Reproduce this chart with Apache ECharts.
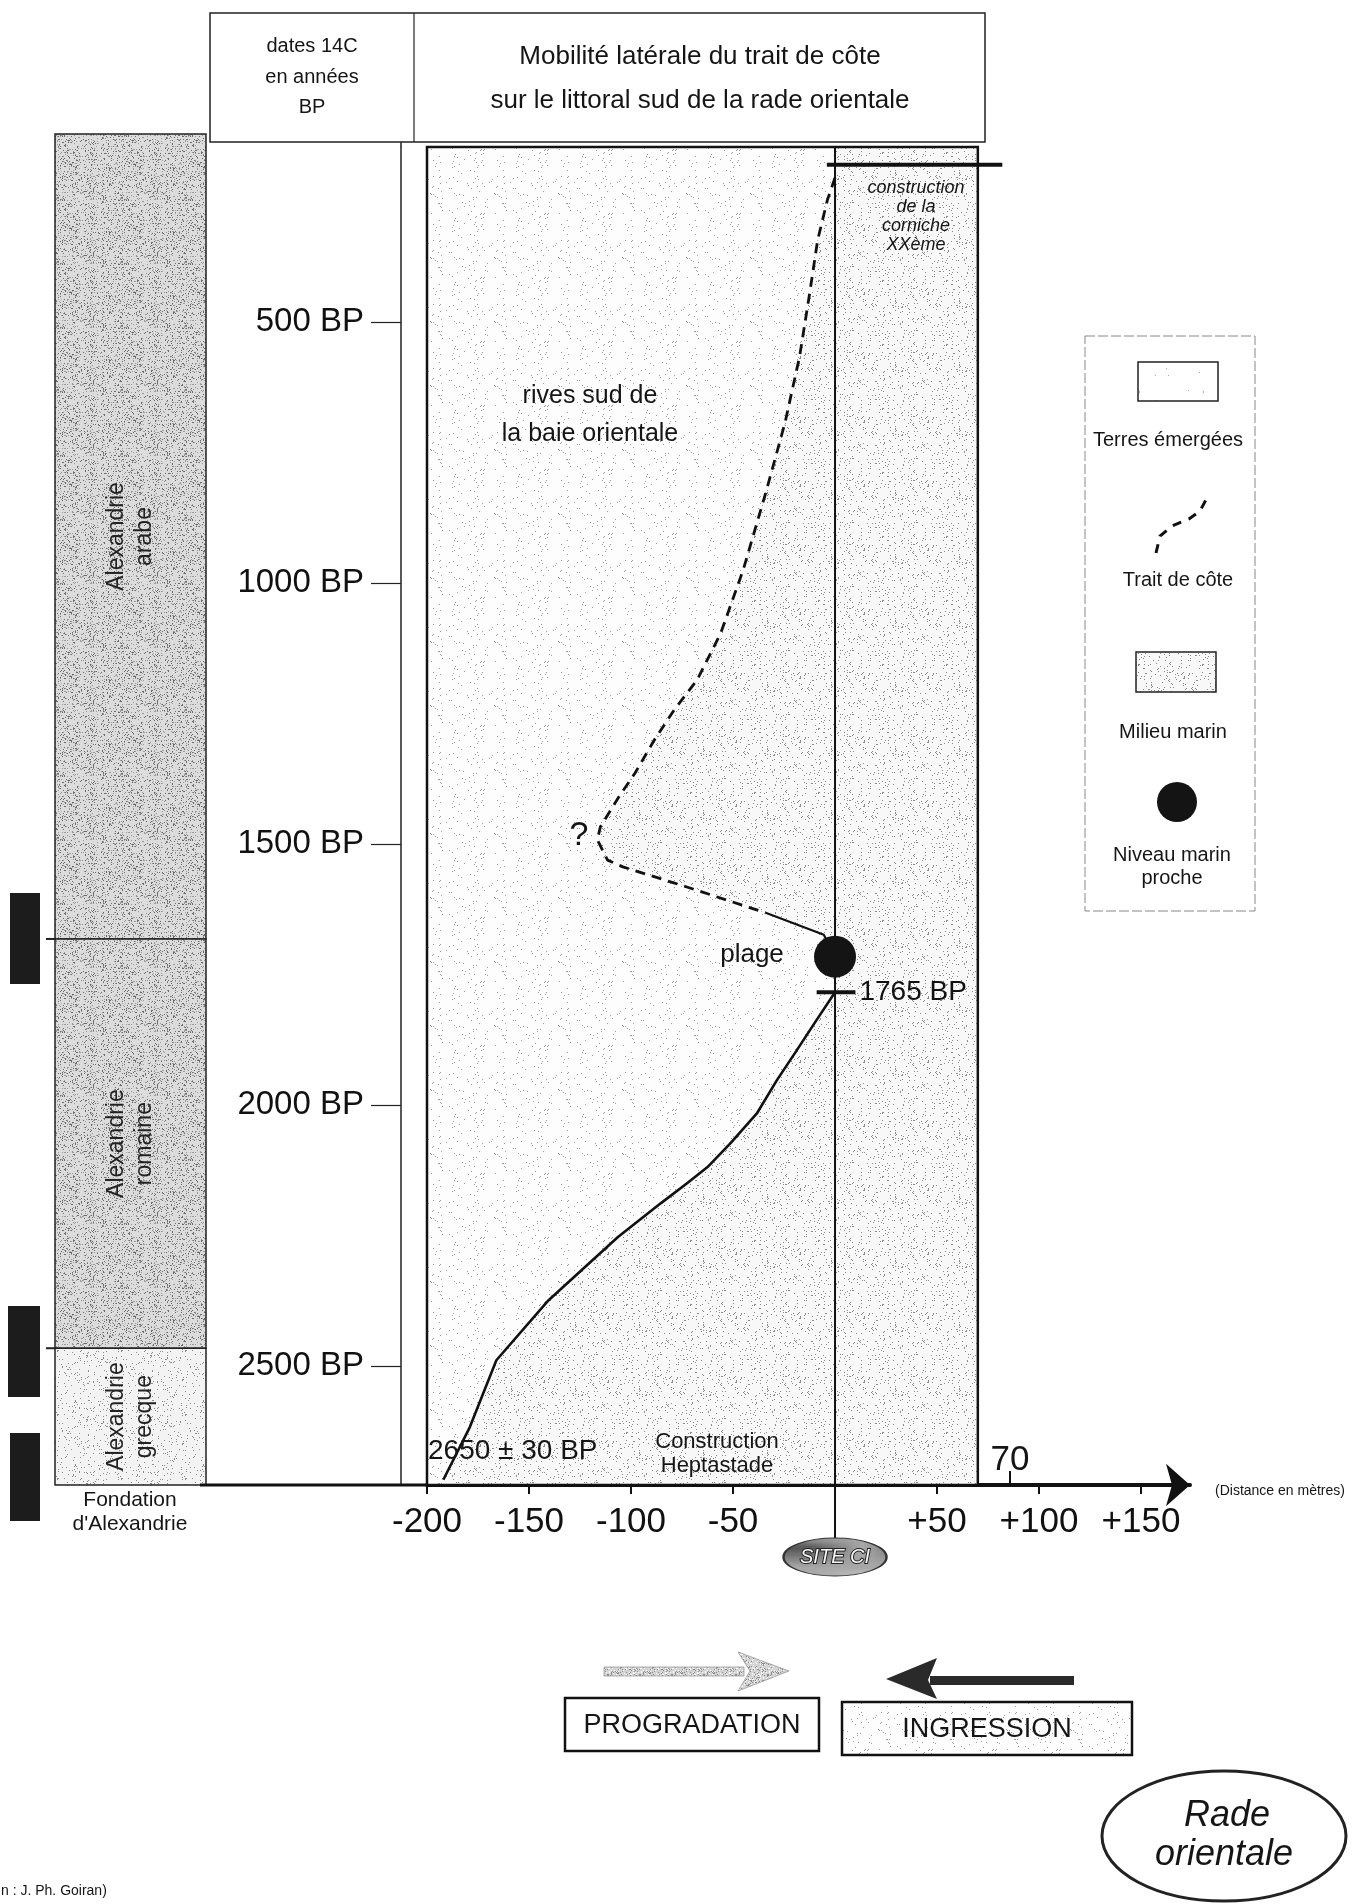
<!DOCTYPE html>
<html>
<head>
<meta charset="utf-8">
<script src="https://cdn.jsdelivr.net/npm/echarts@6/dist/echarts.min.js"></script>
<style>
html, body { margin: 0; padding: 0; background: #fff; }
#chart { width: 1370px; height: 1904px; }
</style>
</head>
<body>
<div id="chart"></div>
<script>
// axes : années BP (vertical) et distance en mètres au site CI (horizontal)
var yTickValues = [500, 1000, 1500, 2000, 2500];
var xTickValues = [-200, -150, -100, -50, 50, 100, 150];

// périodes de la ville (colonne de gauche)
var periodNames = ['Alexandrie\narabe', 'Alexandrie\nromaine', 'Alexandrie\ngrecque'];
var periodStart = [140, 1682, 2466];
var periodEnd = [1682, 2466, 2728];

// trait de côte supposé (tirets)
var dashedDist = [0, -3.7, -8.5, -12.7, -17.4, -24.5, -34, -45, -56, -67.6, -78.8, -88.6, -98, -106, -115, -116.5, -111.5, -104, -73, -34];
var dashedBP = [224, 266, 343, 452, 567, 693, 828, 975, 1096, 1186, 1243, 1301, 1364, 1410, 1467, 1492, 1531, 1544, 1582, 1632];
// raccord vers la plage
var linkDist = [-34, -5.5, 0];
var linkBP = [1632, 1674, 1716];
// trait de côte daté (trait plein)
var solidDist = [0, -9, -18.7, -28.4, -38.1, -51.2, -62.5, -72.2, -85.3, -106.4, -122.4, -140.4, -166, -179, -192];
var solidBP = [1784, 1837, 1895, 1952, 2015, 2073, 2119, 2149, 2188, 2253, 2310, 2374, 2489, 2617, 2718];

var beachPoint = [0, 1716];
var dateTick = { dist: [-9, 10], bp: 1784 };
var cornicheBar = { dist: [-4, 82], bp: 199 };
var frameDist = [-200, 70];
var frameBP = [165, 2728];
var siteBP = 2866;

function pairs(xs, ys) {
	return xs.map(function (x, i) { return [x, ys[i]]; });
}

// petite trame pointillée (texture du scan)
function stipple(bg, dots, size, seed) {
	var c = document.createElement('canvas');
	c.width = size; c.height = size;
	var ctx = c.getContext('2d');
	ctx.fillStyle = bg;
	ctx.fillRect(0, 0, size, size);
	var s = seed;
	function next() { s = (s * 16807) % 2147483647; return s; }
	dots.forEach(function (d) {
		ctx.fillStyle = d[0];
		for (var i = 0; i < d[1]; i++) {
			ctx.fillRect(next() % size, next() % size, 1, 1);
		}
	});
	return c;
}
function pat(c) { return { image: c, repeat: 'repeat' }; }

var texDark = stipple('#dcdcdc', [['#6a6a6a', 420], ['#9a9a9a', 380]], 64, 11);
var texLight = stipple('#f3f3f3', [['#8c8c8c', 240]], 64, 23);
var texSea = stipple('#fdfdfd', [['#9a9a9a', 100]], 64, 37);
var texSeaDense = stipple('#f8f8f8', [['#8a8a8a', 240]], 64, 53);
var texLand = stipple('#ffffff', [['#aaaaaa', 18]], 64, 71);
var texSite = stipple('#a8a8a8', [['#555555', 200], ['#dddddd', 140]], 32, 89);
var texArrow = stipple('#d4d4d4', [['#8a8a8a', 200], ['#ffffff', 150]], 32, 97);

var FONT = '"Liberation Sans", Arial, sans-serif';
function txt(x, y, text, size, opt) {
	opt = opt || {};
	return {
		type: 'text', x: x, y: y, z: 50,
		style: {
			text: text,
			font: (opt.italic ? 'italic ' : '') + size + 'px ' + FONT,
			fill: opt.color || '#151515',
			align: opt.align || 'center',
			verticalAlign: 'middle',
			lineHeight: opt.lineHeight || Math.round(size * 1.2)
		}
	};
}

var chart = echarts.init(document.getElementById('chart'));

var option = {
	animation: false,
	backgroundColor: '#ffffff',
	grid: [
		{ left: 427, top: 147, width: 763, height: 1338 },
		{ left: 55, top: 134, width: 151, height: 1351 }
	],
	xAxis: [
		{
			type: 'value', gridIndex: 0, min: -200, max: 174,
			axisLine: { show: true, onZero: false, lineStyle: { color: '#111', width: 4 }, symbol: ['none', 'arrow'], symbolSize: [32, 24] },
			axisTick: { show: true, customValues: xTickValues, length: 9, lineStyle: { color: '#111', width: 2 } },
			axisLabel: {
				customValues: xTickValues, fontSize: 35, color: '#111', margin: 20, fontFamily: FONT,
				formatter: function (v) { return v > 0 ? '+' + v : '' + v; }
			},
			splitLine: { show: false }
		},
		{ type: 'value', gridIndex: 1, min: 0, max: 1, show: false }
	],
	yAxis: [
		{
			type: 'value', gridIndex: 0, inverse: true, min: frameBP[0], max: frameBP[1],
			position: 'left', offset: 26,
			axisLine: { show: true, onZero: false, lineStyle: { color: '#222', width: 1.5 } },
			axisTick: { show: true, customValues: yTickValues, length: 30, lineStyle: { color: '#222', width: 1.2 } },
			axisLabel: {
				customValues: yTickValues, fontSize: 33, color: '#111', margin: 37, fontFamily: FONT,
				formatter: function (v) { return v + ' BP'; }
			},
			splitLine: { show: false }
		},
		{ type: 'value', gridIndex: 1, inverse: true, min: 140, max: 2728, show: false }
	],
	series: [
		{
			// cadre : milieu marin + rives
			type: 'custom', xAxisIndex: 0, yAxisIndex: 0, z: 1,
			data: [0],
			renderItem: function (params, api) {
				var tl = api.coord([frameDist[0], frameBP[0]]);
				var br = api.coord([frameDist[1], frameBP[1]]);
				var pts = [];
				pairs(dashedDist, dashedBP).forEach(function (p) { pts.push(api.coord(p)); });
				pairs(linkDist, linkBP).slice(1).forEach(function (p) { pts.push(api.coord(p)); });
				pairs(solidDist, solidBP).forEach(function (p) { pts.push(api.coord(p)); });
				pts.push(api.coord([-189.5, frameBP[1]]));
				pts.push(api.coord([frameDist[1], frameBP[1]]));
				pts.push(api.coord([frameDist[1], frameBP[0]]));
				pts.push(api.coord([0, frameBP[0]]));
				var rect = { x: tl[0], y: tl[1], width: br[0] - tl[0], height: br[1] - tl[1] };
				return {
					type: 'group',
					children: [
						{ type: 'rect', shape: rect, style: { fill: pat(texSea) } },
						{ type: 'polygon', shape: { points: pts }, style: { fill: pat(texSeaDense) } },
						{ type: 'rect', shape: rect, style: { fill: null, stroke: '#111', lineWidth: 2.5 } }
					]
				};
			}
		},
		{
			name: 'trait de côte (supposé)', type: 'line', xAxisIndex: 0, yAxisIndex: 0, z: 4,
			data: pairs(dashedDist, dashedBP), symbol: 'none',
			lineStyle: { color: '#111', width: 2.8, type: [10, 7] }
		},
		{
			type: 'line', xAxisIndex: 0, yAxisIndex: 0, z: 4,
			data: pairs(linkDist, linkBP), symbol: 'none',
			lineStyle: { color: '#111', width: 2.2 }
		},
		{
			name: 'trait de côte', type: 'line', xAxisIndex: 0, yAxisIndex: 0, z: 4,
			data: pairs(solidDist, solidBP), symbol: 'none',
			lineStyle: { color: '#111', width: 2.6 }
		},
		{
			// ligne du site CI
			type: 'line', xAxisIndex: 0, yAxisIndex: 0, z: 3, clip: false,
			data: [[0, frameBP[0]], [0, siteBP]], symbol: 'none',
			lineStyle: { color: '#111', width: 2 }
		},
		{
			type: 'scatter', xAxisIndex: 0, yAxisIndex: 0, z: 6, clip: false,
			data: [[0, siteBP]], symbol: 'circle', symbolSize: [103, 38],
			itemStyle: { color: pat(texSite), borderColor: '#333', borderWidth: 1.5, opacity: 1 },
			label: {
				show: true, position: 'inside', formatter: 'SITE CI', fontStyle: 'italic', fontSize: 20,
				fontFamily: FONT, color: '#f4f4f4', textBorderColor: '#222', textBorderWidth: 2
			}
		},
		{
			// niveau marin proche (plage)
			type: 'scatter', xAxisIndex: 0, yAxisIndex: 0, z: 6,
			data: [beachPoint], symbol: 'circle', symbolSize: 42,
			itemStyle: { color: '#141414', opacity: 1 }
		},
		{
			type: 'line', xAxisIndex: 0, yAxisIndex: 0, z: 5,
			data: [[dateTick.dist[0], dateTick.bp], [dateTick.dist[1], dateTick.bp]], symbol: 'none',
			lineStyle: { color: '#111', width: 4 },
			endLabel: { show: true, formatter: '1765 BP', fontSize: 28, color: '#111', fontFamily: FONT, distance: 4 }
		},
		{
			type: 'line', xAxisIndex: 0, yAxisIndex: 0, z: 5, clip: false,
			data: [[cornicheBar.dist[0], cornicheBar.bp], [cornicheBar.dist[1], cornicheBar.bp]], symbol: 'none',
			lineStyle: { color: '#111', width: 4 }
		},
		{
			// colonne des périodes
			type: 'custom', xAxisIndex: 1, yAxisIndex: 1, z: 2,
			data: periodStart.map(function (s, i) { return [s, periodEnd[i]]; }),
			renderItem: function (params, api) {
				var i = params.dataIndex;
				var p0 = api.coord([0, api.value(0)]);
				var p1 = api.coord([1, api.value(1)]);
				var children = [
					{
						type: 'rect',
						shape: { x: p0[0], y: p0[1], width: p1[0] - p0[0], height: p1[1] - p0[1] },
						style: { fill: pat(i === 2 ? texLight : texDark), stroke: '#222', lineWidth: 1.5 }
					},
					{
						type: 'text', x: (p0[0] + p1[0]) / 2, y: (p0[1] + p1[1]) / 2, rotation: Math.PI / 2,
						style: {
							text: periodNames[i], font: '23px ' + FONT, fill: '#222',
							align: 'center', verticalAlign: 'middle', lineHeight: 28
						}
					}
				];
				if (i > 0) {
					children.push({ type: 'line', shape: { x1: p0[0] - 9, y1: p0[1], x2: p0[0], y2: p0[1] }, style: { stroke: '#222', lineWidth: 2 } });
				}
				return { type: 'group', children: children };
			}
		}
	],
	graphic: [
		// en-tête
		{ type: 'rect', z: 40, shape: { x: 210, y: 13, width: 775, height: 129 }, style: { fill: '#fff', stroke: '#222', lineWidth: 1.5 } },
		{ type: 'line', z: 41, shape: { x1: 414, y1: 13, x2: 414, y2: 142 }, style: { stroke: '#222', lineWidth: 1.2 } },
		txt(312, 46, 'dates 14C', 20),
		txt(312, 77, 'en années', 20),
		txt(312, 107, 'BP', 20),
		txt(700, 57, 'Mobilité latérale du trait de côte', 26),
		txt(700, 101, 'sur le littoral sud de la rade orientale', 26),

		// traces noires du scan
		{ type: 'rect', z: 40, shape: { x: 10, y: 893, width: 30, height: 91 }, style: { fill: '#1c1c1c' } },
		{ type: 'rect', z: 40, shape: { x: 8, y: 1306, width: 32, height: 91 }, style: { fill: '#1c1c1c' } },
		{ type: 'rect', z: 40, shape: { x: 10, y: 1433, width: 30, height: 88 }, style: { fill: '#1c1c1c' } },

		txt(130, 1500, 'Fondation', 21),
		txt(130, 1524, "d'Alexandrie", 21),
		{ type: 'line', z: 40, shape: { x1: 200, y1: 1485, x2: 428, y2: 1485 }, style: { stroke: '#111', lineWidth: 3 } },
		{ type: 'line', z: 40, shape: { x1: 401, y1: 142, x2: 401, y2: 147 }, style: { stroke: '#222', lineWidth: 1.5 } },

		// textes du graphique
		txt(590, 396, 'rives sud de', 25),
		txt(590, 434, 'la baie orientale', 25),
		txt(579, 836, '?', 34),
		txt(752, 955, 'plage', 26),
		txt(916, 188, 'construction', 18, { italic: true }),
		txt(916, 207, 'de la', 18, { italic: true }),
		txt(916, 226, 'corniche', 18, { italic: true }),
		txt(916, 245, 'XXème', 18, { italic: true }),
		txt(428, 1451, '2650 ± 30 BP', 28, { align: 'left' }),
		txt(717, 1442, 'Construction', 22),
		txt(717, 1466, 'Heptastade', 22),
		txt(1010, 1460, '70', 35),
		{ type: 'line', z: 40, shape: { x1: 1010, y1: 1471, x2: 1010, y2: 1485 }, style: { stroke: '#111', lineWidth: 2 } },
		txt(1215, 1491, '(Distance en mètres)', 14, { align: 'left' }),

		// légende
		{ type: 'rect', z: 40, shape: { x: 1085, y: 336, width: 170, height: 575 }, style: { fill: null, stroke: '#888', lineWidth: 1, lineDash: [10, 3] } },
		{ type: 'rect', z: 40, shape: { x: 1138, y: 362, width: 80, height: 39 }, style: { fill: pat(texLand), stroke: '#222', lineWidth: 1.5 } },
		txt(1168, 440, 'Terres émergées', 20),
		{
			type: 'polyline', z: 40,
			shape: { points: [[1156, 553], [1160, 536], [1172, 526], [1189, 519], [1200, 511], [1208, 496]] },
			style: { stroke: '#111', lineWidth: 3, lineDash: [9, 8], fill: null }
		},
		txt(1178, 580, 'Trait de côte', 20),
		{ type: 'rect', z: 40, shape: { x: 1136, y: 652, width: 80, height: 40 }, style: { fill: pat(texSeaDense), stroke: '#222', lineWidth: 1.5 } },
		txt(1173, 732, 'Milieu marin', 20),
		{ type: 'circle', z: 40, shape: { cx: 1177, cy: 802, r: 20 }, style: { fill: '#141414' } },
		txt(1172, 867, 'Niveau marin\nproche', 20, { lineHeight: 23 }),

		// flèches
		{ type: 'rect', z: 40, shape: { x: 604, y: 1667, width: 140, height: 9 }, style: { fill: pat(texArrow), stroke: '#999', lineWidth: 0.8 } },
		{ type: 'polygon', z: 41, shape: { points: [[738, 1652], [789, 1671], [738, 1691], [750, 1671]] }, style: { fill: pat(texArrow), stroke: '#999', lineWidth: 0.8 } },
		{ type: 'rect', z: 40, shape: { x: 930, y: 1676, width: 144, height: 9 }, style: { fill: '#2a2a2a' } },
		{ type: 'polygon', z: 41, shape: { points: [[937, 1658], [886, 1679], [937, 1699], [928, 1680]] }, style: { fill: '#2a2a2a' } },
		{ type: 'rect', z: 40, shape: { x: 565, y: 1698, width: 254, height: 53 }, style: { fill: '#fff', stroke: '#111', lineWidth: 2.5 } },
		txt(692, 1726, 'PROGRADATION', 27),
		{ type: 'rect', z: 40, shape: { x: 842, y: 1702, width: 290, height: 53 }, style: { fill: pat(texSea), stroke: '#111', lineWidth: 2.5 } },
		txt(987, 1730, 'INGRESSION', 27),

		// rade orientale
		{ type: 'ellipse', z: 40, shape: { cx: 1224, cy: 1836, rx: 122, ry: 65 }, style: { fill: '#fff', stroke: '#222', lineWidth: 3 } },
		txt(1227, 1816, 'Rade', 36, { italic: true }),
		txt(1224, 1855, 'orientale', 36, { italic: true }),

		txt(1, 1891, 'n : J. Ph. Goiran)', 14, { align: 'left' })
	]
};

chart.setOption(option);
</script>
</body>
</html>
